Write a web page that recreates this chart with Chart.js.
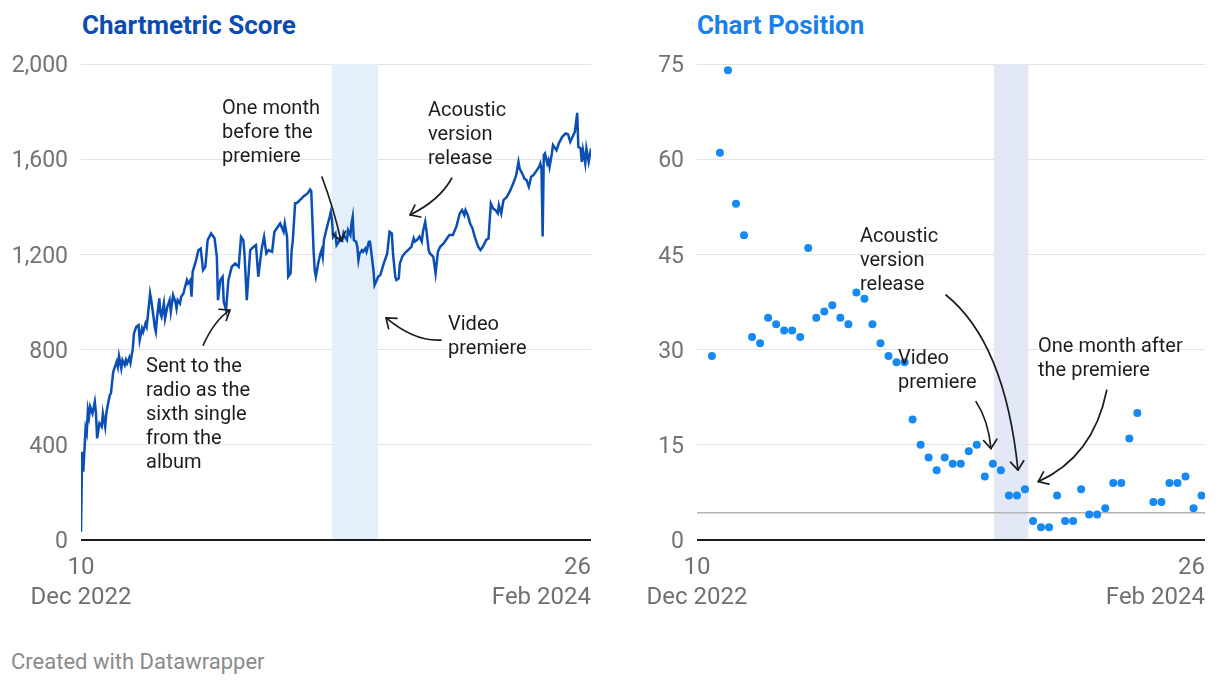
<!DOCTYPE html>
<html><head><meta charset="utf-8">
<script src="https://cdn.jsdelivr.net/npm/chart.js@4.4.1/dist/chart.umd.min.js"></script>
<style>
html,body{margin:0;padding:0;background:#fff;width:1220px;height:686px;overflow:hidden;font-family:Roboto,sans-serif;}
.title{position:absolute;top:12px;font-family:Roboto;font-weight:bold;font-size:26px;line-height:26px;white-space:nowrap;}
#t1{left:82px;color:#0b4cb0;}
#t2{left:697px;color:#1a7fe8;}
#foot{position:absolute;left:11px;top:651px;font-family:Roboto;font-size:22px;line-height:22px;color:#8a8a8a;}
.box{position:absolute;top:0;height:620px;width:600px;}
#b1{left:0}
#b2{left:610px}
</style></head><body>
<div class="title" id="t1">Chartmetric Score</div>
<div class="title" id="t2">Chart Position</div>
<div class="box" id="b1"><canvas id="c1"></canvas></div>
<div class="box" id="b2"><canvas id="c2"></canvas></div>
<div id="foot">Created with Datawrapper</div>
<script>
// ---- DATA ----
// x in days since 10 Dec 2022 (day 443 = 26 Feb 2024)
const xTickDays = [0, 443];
const xTickLabels = [["10", "Dec 2022"], ["26", "Feb 2024"]];

const scoreTicks = [0, 400, 800, 1200, 1600, 2000];
const scoreDays = [
  0,1,2,4,5,6,7,8,10,12,
  13,14,16,18,19,21,22,23,25,26,
  28,29,31,32,33,35,36,38,39,40,
  42,43,45,46,48,50,51,53,54,56,
  57,58,60,61,63,64,65,66,68,69,
  70,72,73,75,77,78,80,82,83,84,
  86,87,89,90,92,93,95,96,97,100,
  102,104,106,108,110,113,116,118,119,121,
  123,124,126,128,131,134,137,139,141,142,
  144,147,150,152,154,157,159,161,163,166,
  168,170,173,176,177,179,180,182,183,184,
  186,187,189,190,192,193,195,197,199,200,
  201,202,203,204,206,208,209,210,211,213,
  216,217,218,219,221,222,224,225,227,228,
  229,231,232,234,235,236,237,239,240,241,
  242,244,245,247,248,250,251,253,254,255,
  257,258,260,263,266,268,270,271,273,274,
  276,277,279,281,284,287,289,290,292,294,
  296,297,299,300,302,303,306,308,310,312,
  315,318,320,323,326,329,331,333,334,336,
  338,340,342,345,347,349,352,354,356,358,
  360,362,363,365,367,370,373,376,378,380,
  381,384,385,387,389,391,393,396,398,399,
  400,401,402,403,405,406,407,409,410,413,
  415,418,421,423,425,427,429,431,432,434,
  435,436,438,439,441,443
];
const scoreValues = [
  35,371,287,470,450,546,518,560,532,581,
  532,427,490,476,532,476,532,560,609,616,
  707,721,749,728,773,721,756,735,756,742,
  767,745,805,868,896,903,840,889,875,910,
  896,938,1036,1008,938,896,875,931,1015,952,
  938,994,931,980,1008,959,1029,1001,973,1008,
  994,1022,1036,1057,1092,1078,1092,1022,1127,1176,
  1218,1225,1134,1148,1260,1288,1268,1190,1008,1092,
  1106,1001,966,1092,1148,1162,1148,1274,1260,1204,
  1008,1218,1232,1239,1106,1225,1274,1204,1218,1211,
  1295,1309,1330,1295,1330,1274,1106,1120,1218,1260,
  1415,1415,1422,1428,1436,1443,1450,1457,1473,1466,
  1345,1218,1134,1106,1162,1204,1218,1190,1260,1302,
  1358,1379,1344,1274,1288,1239,1253,1274,1260,1288,
  1274,1260,1302,1281,1330,1358,1260,1253,1232,1176,
  1204,1218,1211,1225,1211,1253,1253,1176,1134,1071,
  1092,1106,1113,1162,1204,1295,1288,1204,1106,1092,
  1099,1162,1190,1204,1218,1232,1268,1254,1261,1275,
  1254,1295,1337,1302,1218,1205,1190,1120,1211,1232,
  1246,1268,1282,1282,1316,1372,1386,1365,1386,1365,
  1330,1310,1275,1232,1218,1232,1261,1268,1414,1393,
  1386,1372,1407,1372,1428,1442,1470,1505,1533,1589,
  1561,1533,1519,1512,1484,1526,1533,1554,1568,1582,
  1560,1275,1617,1624,1582,1596,1568,1624,1659,1638,
  1666,1694,1708,1705,1673,1694,1715,1795,1652,1645,
  1589,1638,1582,1645,1589,1645
];
const scoreBand = [218, 258];

const positionTicks = [0, 15, 30, 45, 60, 75];
const positionFirstDay = 13;   // 23 Dec 2022, weekly chart dates
const positionWeekDays = 7;
const positionValues = [
  29,61,74,53,48,32,31,35,34,33,
  33,32,46,35,36,37,35,34,39,38,
  34,31,29,28,28,19,15,13,11,13,
  12,12,14,15,10,12,11,7,7,8,
  3,2,2,7,3,3,8,4,4,5,
  9,9,16,20,null,6,6,9,9,10,
  5,7
];
const positionBand = [259, 289];
const positionRefLine = 4.3;

// annotations in data coordinates
const scoreNotes = [
  {lines:["One month","before the","premiere"], day:122.5, value:1819},
  {lines:["Acoustic","version","release"], day:301.4, value:1811},
  {lines:["Video","premiere"], day:318.8, value:912},
  {lines:["Sent to the","radio as the","sixth single","from the","album"], day:56.5, value:735}
];
const scoreArrows = [
  {from:[209.3,1525], ctrl:[219.4,1395], to:[225.9,1256]},
  {from:[106.2,819], ctrl:[115.9,924], to:[129.4,966]},
  {from:[322,1520], ctrl:[311.7,1428], to:[285.8,1366]},
  {from:[312.7,840], ctrl:[290.1,832], to:[265,933]}
];
const positionNotes = [
  {lines:["Acoustic","version","release"], day:142.1, value:48.06},
  {lines:["Video","premiere"], day:175.3, value:28.83},
  {lines:["One month after","the premiere"], day:297.4, value:30.72}
];
const positionArrows = [
  {from:[217.1,38.6], ctrl:[268.6,31.1], to:[279.9,11.0]},
  {from:[243.3,21.8], ctrl:[254,18.9], to:[256.4,14.4]},
  {from:[357.3,23.6], ctrl:[345.6,13.1], to:[297.6,9.2]}
];

// ---- DRAWING ----
const FONT = 'Roboto';
function decor(o){
  return {
    id:'decor',
    beforeDatasetsDraw(chart){
      const {ctx, chartArea:a, scales:{x,y}} = chart;
      ctx.save();
      const x0 = x.getPixelForValue(o.band[0]), x1 = x.getPixelForValue(o.band[1]);
      ctx.fillStyle = o.bandColor;
      ctx.fillRect(x0, a.top, x1-x0, a.bottom-a.top);
      if (o.refLine != null){
        const yy = y.getPixelForValue(o.refLine);
        ctx.strokeStyle = '#b3b3b3'; ctx.lineWidth = 1.5;
        ctx.beginPath(); ctx.moveTo(a.left, yy); ctx.lineTo(a.right, yy); ctx.stroke();
      }
      ctx.restore();
    },
    afterDatasetsDraw(chart){
      const {ctx, chartArea:a, scales:{x,y}} = chart;
      ctx.save();
      // baseline
      const y0 = y.getPixelForValue(0);
      ctx.strokeStyle = '#1c1c1c'; ctx.lineWidth = 2;
      ctx.beginPath(); ctx.moveTo(a.left, y0); ctx.lineTo(a.right, y0); ctx.stroke();
      // x tick labels
      ctx.fillStyle = '#707070'; ctx.font = '24px ' + FONT; ctx.textBaseline = 'middle';
      xTickDays.forEach((d,i)=>{
        const xp = x.getPixelForValue(d);
        ctx.textAlign = i === xTickDays.length-1 ? 'right' : 'center';
        xTickLabels[i].forEach((t,j)=> ctx.fillText(t, xp, a.bottom + 27.5 + j*30));
      });
      // notes
      ctx.fillStyle = '#1e1e1e'; ctx.font = '20px ' + FONT; ctx.textAlign = 'left';
      o.notes.forEach(n=>{
        const xp = x.getPixelForValue(n.day), yp = y.getPixelForValue(n.value);
        n.lines.forEach((t,j)=> ctx.fillText(t, xp, yp + 2.2 + j*24));
      });
      // arrows
      ctx.strokeStyle = '#1e1e1e'; ctx.lineWidth = 1.7; ctx.lineCap='round'; ctx.lineJoin='round';
      o.arrows.forEach(ar=>{
        const P = p => [x.getPixelForValue(p[0]), y.getPixelForValue(p[1])];
        const s = P(ar.from), c = P(ar.ctrl), t = P(ar.to);
        ctx.beginPath(); ctx.moveTo(s[0], s[1]); ctx.quadraticCurveTo(c[0], c[1], t[0], t[1]); ctx.stroke();
        const ang = Math.atan2(t[1]-c[1], t[0]-c[0]);
        const L = 11, w = 0.65;
        ctx.beginPath();
        ctx.moveTo(t[0] - L*Math.cos(ang - w), t[1] - L*Math.sin(ang - w));
        ctx.lineTo(t[0], t[1]);
        ctx.lineTo(t[0] - L*Math.cos(ang + w), t[1] - L*Math.sin(ang + w));
        ctx.stroke();
      });
      ctx.restore();
    }
  };
}

function yScale(ticks, width, fmt){
  return {
    min: ticks[0], max: ticks[ticks.length-1],
    afterBuildTicks: s => { s.ticks = ticks.map(v => ({value:v})); },
    afterFit: s => { s.width = width; },
    border:{display:false},
    grid:{drawTicks:false, lineWidth:1, color: c => (c.tick && c.tick.value === 0) ? 'rgba(0,0,0,0)' : '#e3e3e3'},
    ticks:{padding:13, labelOffset:2.4, color:'#737373', font:{family:FONT, size:23}, callback: fmt}
  };
}
const xScale = {type:'linear', min:0, max:443, display:false};

new Chart(document.getElementById('c1'), {
  type:'line',
  data:{datasets:[{
    data: scoreDays.map((d,i)=>({x:d, y:scoreValues[i]})),
    borderColor:'#0b4fb4', borderWidth:2.5, pointRadius:0, tension:0, fill:false
  }]},
  options:{
    responsive:true, maintainAspectRatio:false, animation:false,
    layout:{padding:{top:64, bottom:80, left:0, right:9}},
    plugins:{legend:{display:false}, tooltip:{enabled:false}},
    scales:{x:xScale, y:yScale(scoreTicks, 81, v => v.toLocaleString('en-US'))}
  },
  plugins:[decor({band:scoreBand, bandColor:'#e3f0fc', refLine:null, notes:scoreNotes, arrows:scoreArrows})]
});

const positionPoints = [];
positionValues.forEach((v,i)=>{ if (v !== null) positionPoints.push({x: positionFirstDay + i*positionWeekDays, y: v}); });

new Chart(document.getElementById('c2'), {
  type:'scatter',
  data:{datasets:[{
    data: positionPoints,
    backgroundColor:'#1689f2', borderWidth:0, pointRadius:4, pointHoverRadius:4
  }]},
  options:{
    responsive:true, maintainAspectRatio:false, animation:false,
    layout:{padding:{top:64, bottom:80, left:0, right:5}},
    plugins:{legend:{display:false}, tooltip:{enabled:false}},
    scales:{x:xScale, y:yScale(positionTicks, 87, v => String(v))}
  },
  plugins:[decor({band:positionBand, bandColor:'#e2e8f5', refLine:positionRefLine, notes:positionNotes, arrows:positionArrows})]
});
</script>
</body></html>
